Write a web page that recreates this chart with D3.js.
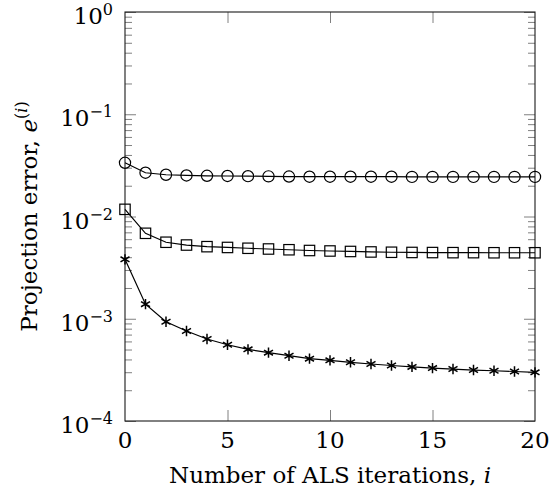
<!DOCTYPE html>
<html>
<head>
<meta charset="utf-8">
<script src="https://cdn.jsdelivr.net/npm/d3@7"></script>
<style>
  html, body { margin: 0; padding: 0; background: #fff; }
  svg { display: block; }
  text { font-family: "DejaVu Serif", "Liberation Serif", serif; fill: #000; }
</style>
</head>
<body>
<svg id="chart" width="550" height="498"></svg>
<script>
// ALS iteration index
const iterations = [0, 1, 2, 3, 4, 5, 6, 7, 8, 9, 10, 11, 12, 13, 14, 15, 16, 17, 18, 19, 20];

// Projection error per iteration, three runs
const errorCircle = [0.0335, 0.0268, 0.0256, 0.0252, 0.0250, 0.0249, 0.0248, 0.0247, 0.0246, 0.0245,
                     0.0245, 0.0245, 0.0245, 0.0245, 0.0244, 0.0244, 0.0244, 0.0244, 0.0244, 0.0244, 0.0244];
const errorSquare = [0.01175, 0.00685, 0.0056, 0.00526, 0.00507, 0.00498, 0.00489, 0.00481, 0.00473, 0.00465,
                     0.00460, 0.00455, 0.00450, 0.00447, 0.00445, 0.00444, 0.00443, 0.00443, 0.00442, 0.00442, 0.00442];
const errorStar = [0.00381, 0.00139, 0.000935, 0.000759, 0.000634, 0.000557, 0.000502, 0.000466, 0.000435, 0.000407,
                   0.000392, 0.000375, 0.000361, 0.000349, 0.000338, 0.000329, 0.000322, 0.000315, 0.000310, 0.000305, 0.000299];

// Axis ticks
const xTicks = [0, 5, 10, 15, 20];
const yExponents = [0, -1, -2, -3, -4];
const yMinorMultipliers = [2, 3, 4, 5, 6, 7, 8, 9];

const svg = d3.select("#chart");
const plot = { left: 125, right: 535, top: 12, bottom: 421 };

const x = d3.scaleLinear().domain([0, 20]).range([plot.left, plot.right]);
const y = d3.scaleLog().domain([1e-4, 1]).range([plot.bottom, plot.top]);

const majorY = yExponents.map(e => Math.pow(10, e));
const minorY = [];
for (let e = -4; e < 0; e++) yMinorMultipliers.forEach(m => minorY.push(m * Math.pow(10, e)));
const innerX = xTicks.filter(t => t > 0 && t < 20);

const tickColor = "#808080";
function styleTicks(g) {
  g.select(".domain").remove();
  g.selectAll("text").remove();
  g.selectAll("line").attr("stroke", tickColor).attr("stroke-width", 1);
}

// Ticks pointing into the plot on all four sides
svg.append("g").attr("transform", `translate(${plot.left},0)`)
  .call(d3.axisLeft(y).tickValues(minorY).tickSize(-7)).call(styleTicks);
svg.append("g").attr("transform", `translate(${plot.left},0)`)
  .call(d3.axisLeft(y).tickValues(majorY).tickSize(-11)).call(styleTicks);
svg.append("g").attr("transform", `translate(${plot.right},0)`)
  .call(d3.axisRight(y).tickValues(minorY).tickSize(-7)).call(styleTicks);
svg.append("g").attr("transform", `translate(${plot.right},0)`)
  .call(d3.axisRight(y).tickValues(majorY).tickSize(-11)).call(styleTicks);
svg.append("g").attr("transform", `translate(0,${plot.bottom})`)
  .call(d3.axisBottom(x).tickValues(innerX).tickSize(-11)).call(styleTicks);
svg.append("g").attr("transform", `translate(0,${plot.top})`)
  .call(d3.axisTop(x).tickValues(innerX).tickSize(-11)).call(styleTicks);

// Frame
svg.append("rect")
  .attr("x", plot.left).attr("y", plot.top)
  .attr("width", plot.right - plot.left).attr("height", plot.bottom - plot.top)
  .attr("fill", "none").attr("stroke", "#1a1a1a").attr("stroke-width", 1.1);

// X tick labels
svg.append("g").selectAll("text").data(xTicks).join("text")
  .attr("x", d => x(d)).attr("y", plot.bottom + 27)
  .attr("text-anchor", "middle").attr("font-size", 23)
  .text(d => d);

// Y tick labels: 10 with a raised exponent
const yLab = svg.append("g").selectAll("text").data(yExponents).join("text")
  .attr("x", 113).attr("y", d => y(Math.pow(10, d)) + 12)
  .attr("text-anchor", "end").attr("font-size", 23);
yLab.append("tspan").text("10");
yLab.append("tspan").attr("dy", -9).attr("font-size", 16)
  .text(d => d === 0 ? "0" : "\u2212" + Math.abs(d));

// Series
const line = d3.line().x((d, i) => x(iterations[i])).y(d => y(d));
const lineStyle = g => g.attr("fill", "none").attr("stroke", "#000").attr("stroke-width", 1.2);

const starPath = (() => {
  const r = 5.2;
  let p = "";
  [90, 30, 150].forEach(a => {
    const rad = a * Math.PI / 180;
    const dx = r * Math.cos(rad), dy = r * Math.sin(rad);
    p += `M${-dx},${-dy}L${dx},${dy}`;
  });
  return p;
})();

[errorCircle, errorSquare, errorStar].forEach((series, k) => {
  svg.append("path").datum(series).attr("d", line).call(lineStyle);
  const marks = svg.append("g").selectAll("g").data(series).join("g")
    .attr("transform", (d, i) => `translate(${x(iterations[i])},${y(d)})`);
  if (k === 0) {
    marks.append("circle").attr("r", 5.6).call(lineStyle);
  } else if (k === 1) {
    marks.append("rect").attr("x", -5.2).attr("y", -5.2).attr("width", 10.4).attr("height", 10.4).call(lineStyle);
  } else {
    marks.append("path").attr("d", starPath).call(lineStyle).attr("stroke-width", 1.5);
  }
});

// Axis titles
const xt = svg.append("text")
  .attr("x", (plot.left + plot.right) / 2).attr("y", 483)
  .attr("text-anchor", "middle").attr("font-size", 23);
xt.append("tspan").text("Number of ALS iterations, ");
xt.append("tspan").attr("font-style", "italic").text("i");

const yt = svg.append("text")
  .attr("transform", `translate(37,${(plot.top + plot.bottom) / 2}) rotate(-90)`)
  .attr("text-anchor", "middle").attr("font-size", 23);
yt.append("tspan").text("Projection error, ");
yt.append("tspan").attr("font-style", "italic").text("e");
yt.append("tspan").attr("dy", -10).attr("font-size", 16).text("(");
yt.append("tspan").attr("font-size", 16).attr("font-style", "italic").text("i");
yt.append("tspan").attr("font-size", 16).text(")");
</script>
</body>
</html>
